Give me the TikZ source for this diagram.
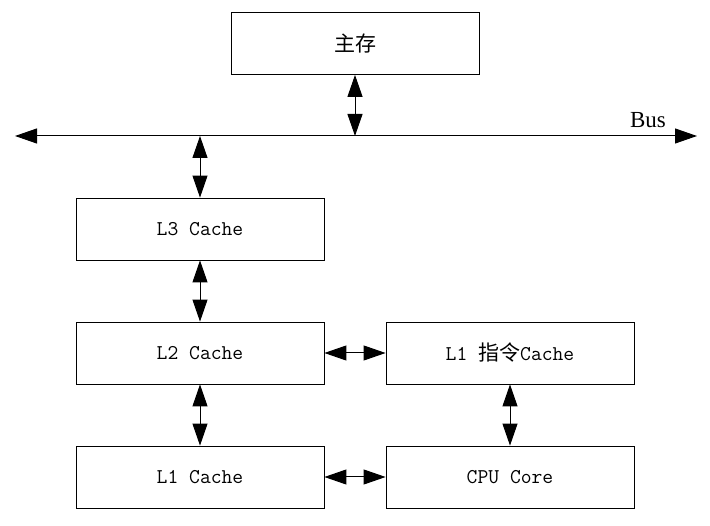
\documentclass[tikz,border=0pt]{standalone}
\usepackage{fontspec}
\newfontfamily\cjk{Noto Sans CJK SC}
\newfontfamily\busfont{Liberation Serif}
\usetikzlibrary{arrows.meta}

\tikzset{
    block/.style={draw, line width=0.8pt, minimum width=248pt, minimum height=62pt, inner sep=0pt, font=\ttfamily\fontsize{21}{22}\selectfont},
    link/.style={line width=1pt, {Triangle[length=22pt,width=15pt]}-{Triangle[length=22pt,width=15pt]}}
}

\begin{document}
\begin{tikzpicture}[x=1pt, y=-1pt]
        \useasboundingbox (0,0) rectangle (710,526);
        \node[block] (mem) at (355, 43.5) {\cjk 主存};
        \node[block] (l3) at (200, 229) {L3 Cache};
        \node[block] (l2) at (200, 353) {L2 Cache};
        \node[block] (l1i) at (510, 353) {L1 {\cjk 指令}Cache};
        \node[block] (l1) at (200, 477) {L1 Cache};
        \node[block] (cpu) at (510, 477) {CPU Core};

        \coordinate (busL) at (15, 136);
        \coordinate (busR) at (697, 136);
        \coordinate (busmem) at (355, 136);
        \coordinate (busl3) at (200, 136);
        \node[font=\busfont\fontsize{23}{24}\selectfont, anchor=base] (bus) at (648, 128) {Bus};

        \draw[link] (busL) to (busR);
        \draw[link] (mem) to (busmem);
        \draw[link] (busl3) to (l3);
        \draw[link] (l3) to (l2);
        \draw[link] (l2) to (l1);
        \draw[link] (l2) to (l1i);
        \draw[link] (l1) to (cpu);
        \draw[link] (l1i) to (cpu);
    \end{tikzpicture}
\end{document}
